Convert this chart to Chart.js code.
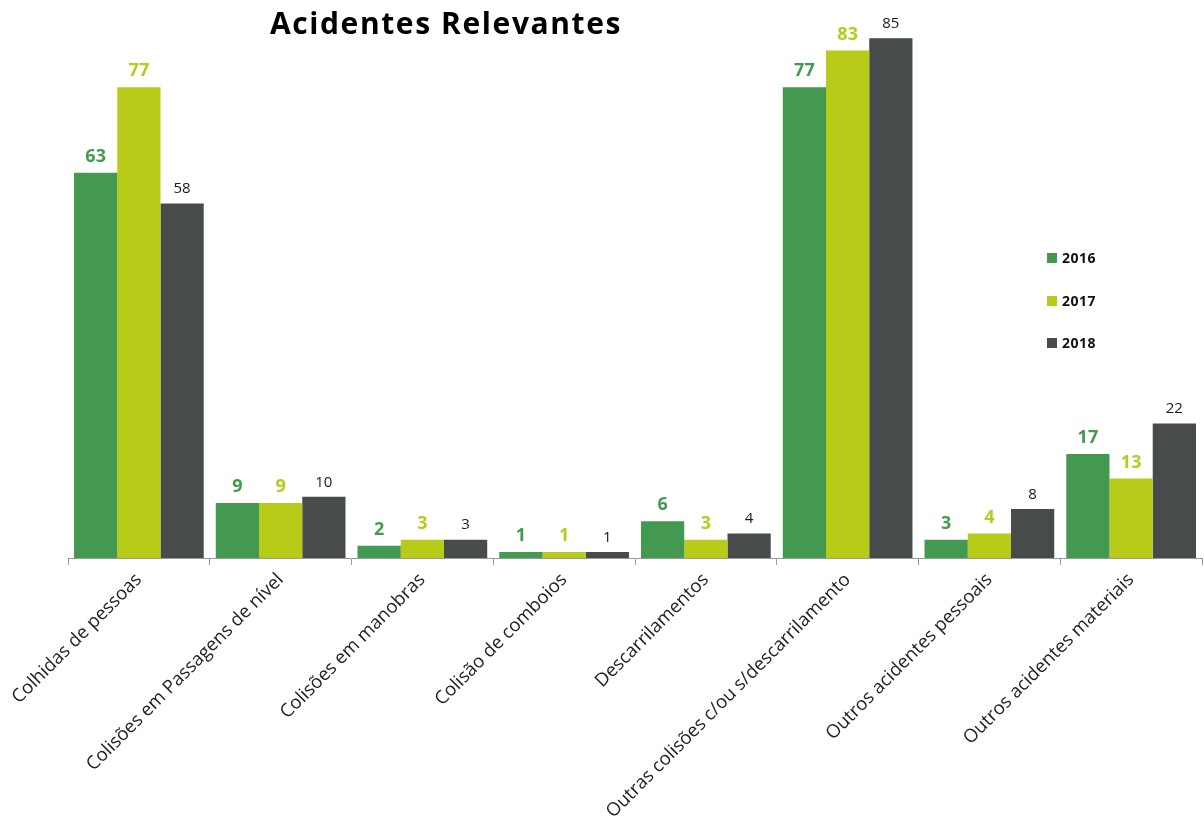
<!DOCTYPE html>
<html>
<head>
<meta charset="utf-8">
<script src="https://cdn.jsdelivr.net/npm/chart.js@4.4.1/dist/chart.umd.min.js"></script>
<style>
    body { margin: 0; background: #fff; }
    #wrap { position: relative; width: 1204px; height: 827px; }
    #title {
        position: absolute; left: 0; top: 2px; width: 892px; text-align: center;
        font: bold 30px 'Open Sans', sans-serif; color: #000; letter-spacing: 1.6px;
    }
    #legend { position: absolute; left: 1047px; top: 248px; font: bold 14px 'Open Sans', sans-serif; color: #111; letter-spacing: 0.5px; }
    #legend div { height: 42.5px; display: flex; align-items: flex-start; }
    #legend span.box { display: inline-block; width: 10px; height: 10px; margin: 5px 5px 0 0; }
</style>
</head>
<body>
<div id="wrap">
    <canvas id="myBarChart" width="1204" height="827"></canvas>
    <div id="title">Acidentes Relevantes</div>
    <div id="legend"></div>
</div>
<script>
const categories = [
    'Colhidas de pessoas',
    'Colisões em Passagens de nível',
    'Colisões em manobras',
    'Colisão de comboios',
    'Descarrilamentos',
    'Outras colisões c/ou s/descarrilamento',
    'Outros acidentes pessoais',
    'Outros acidentes materiais',
];
const years = ['2016', '2017', '2018'];
const values2016 = [63, 9, 2, 1, 6, 77, 3, 17];
const values2017 = [77, 9, 3, 1, 3, 83, 4, 13];
const values2018 = [58, 10, 3, 1, 4, 85, 8, 22];

const barColors = ['#43994f', '#b8cb19', '#474b4c'];
const labelColors = ['#43994f', '#b8cb19', '#1a1a1a'];
const labelFonts = ["bold 18px 'Open Sans', sans-serif", "bold 18px 'Open Sans', sans-serif", "15px 'Open Sans', sans-serif"];

// legend
const legendEl = document.getElementById('legend');
years.forEach((y, i) => {
    const row = document.createElement('div');
    row.innerHTML = `<span class="box" style="background:${barColors[i]}"></span>${y}`;
    legendEl.appendChild(row);
});

const valueLabels = {
    id: 'valueLabels',
    afterDatasetsDraw(chart) {
        const ctx = chart.ctx;
        chart.data.datasets.forEach((ds, i) => {
            const meta = chart.getDatasetMeta(i);
            meta.data.forEach((bar, j) => {
                ctx.save();
                ctx.font = labelFonts[i];
                ctx.fillStyle = labelColors[i];
                ctx.textAlign = 'center';
                ctx.textBaseline = 'bottom';
                ctx.fillText(ds.data[j], bar.x, bar.y - 7);
                ctx.restore();
            });
        });
    },
};

const ctx = document.getElementById('myBarChart').getContext('2d');
new Chart(ctx, {
    type: 'bar',
    data: {
        labels: categories,
        datasets: [
            { label: years[0], data: values2016, backgroundColor: barColors[0] },
            { label: years[1], data: values2017, backgroundColor: barColors[1] },
            { label: years[2], data: values2018, backgroundColor: barColors[2] },
        ],
    },
    options: {
        responsive: false,
        animation: false,
        layout: { padding: { top: 20, left: 68, right: 2, bottom: 0 } },
        datasets: { bar: { categoryPercentage: 0.915, barPercentage: 1, borderWidth: 0 } },
        plugins: { legend: { display: false }, tooltip: { enabled: false } },
        scales: {
            x: {
                grid: { display: true, drawOnChartArea: false, drawTicks: true, tickLength: 7, color: '#999', offset: true },
                border: { display: true, color: '#999', width: 1 },
                ticks: {
                    minRotation: 45,
                    maxRotation: 45,
                    autoSkip: false,
                    padding: 4,
                    color: '#222',
                    font: { family: "'Open Sans', sans-serif", size: 18.5 },
                },
                afterFit(scale) {
                    scale.height = 269;
                    scale.paddingLeft = 0;
                    scale.paddingRight = 0;
                },
            },
            y: { display: false, min: 0, max: 88 },
        },
    },
    plugins: [valueLabels],
});
</script>
</body>
</html>
